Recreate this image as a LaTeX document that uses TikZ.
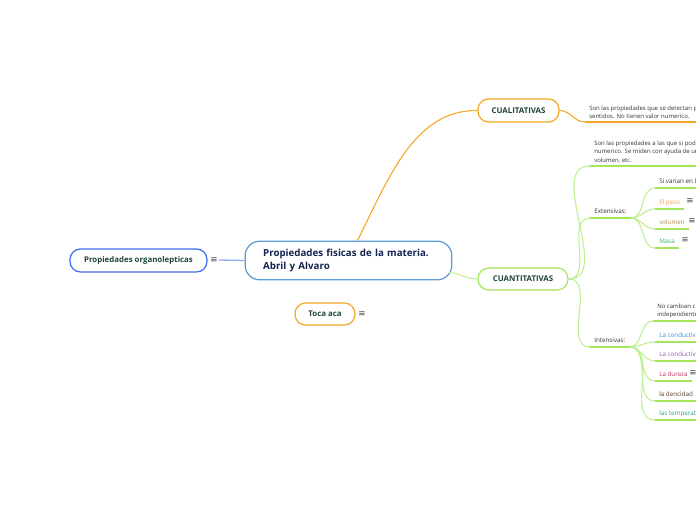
\documentclass[tikz,border=0pt]{standalone}
\usepackage{fontspec}
\setmainfont{Open Sans}
\newfontfamily\symfont{DejaVu Sans}
\usetikzlibrary{positioning, calc}

\definecolor{orangeline}{HTML}{F5A623}
\definecolor{greenline}{HTML}{A3E65A}
\definecolor{greenlink}{HTML}{BDF090}
\definecolor{blueline}{HTML}{3D6DF0}
\definecolor{bluelink}{HTML}{8FB0F0}
\definecolor{centerline}{HTML}{5B9BD5}
\definecolor{darktext}{HTML}{1E4535}
\definecolor{navytext}{HTML}{14224F}
\definecolor{pesocol}{HTML}{F5A050}
\definecolor{volcol}{HTML}{B0905A}
\definecolor{masacol}{HTML}{3DB46D}
\definecolor{cond1col}{HTML}{3A8FD0}
\definecolor{cond2col}{HTML}{8E5BB5}
\definecolor{durcol}{HTML}{C8325A}
\definecolor{dencol}{HTML}{5A3A2A}
\definecolor{tempcol}{HTML}{2A9D8F}

\tikzset{
    pill/.style={draw, line width=0.9pt, rounded corners=8pt, fill=white, text=darktext,
        font=\fontsize{5.9}{7}\selectfont\bfseries, inner sep=0pt},
    leaf/.style={anchor=south west, inner xsep=3pt, inner ysep=1.9pt, text height=3.6pt,
        text depth=1.2pt, font=\fontsize{4.7}{6.4}\selectfont, text=black!80},
    note/.style={anchor=south west, align=left, inner xsep=3pt, inner ysep=2pt,
        font=\fontsize{4.5}{6.4}\selectfont, text=black!80},
    icon/.style={font=\symfont\fontsize{6.5}{7}\selectfont, text=black!75, inner sep=0.5pt},
    uline/.style={line width=1.1pt, greenline},
    link/.style={line width=0.8pt, greenlink},
}

\begin{document}
\begin{tikzpicture}[x=0.75pt, y=-0.75pt]
    \useasboundingbox (0,0) rectangle (696,520);
    \fill[white] (0,0) rectangle (696,520);
    \clip (0,0) rectangle (696,520);

    % main topics
    \node[draw=centerline, line width=0.9pt, rounded corners=11pt, minimum width=155pt,
        minimum height=29pt, text width=128pt, align=left, text=navytext,
        font=\fontsize{7.3}{9.8}\selectfont\bfseries] (central) at (348.5,260.5)
        {Propiedades fisicas de la materia.\\Abril y Alvaro};
    \node[pill, draw=blueline, minimum width=102.8pt, minimum height=17.3pt] (organo)
        at (138.5,260.5) {Propiedades organolepticas};
    \node[icon] (organoIcon) at (214,260) {≡};
    \node[pill, draw=orangeline, minimum width=45pt, minimum height=16.5pt] (toca)
        at (325,314) {Toca aca};
    \node[icon] (tocaIcon) at (362,314) {≡};
    \node[pill, draw=orangeline, minimum width=60.8pt, minimum height=17.3pt] (cuali)
        at (518.5,110.5) {CUALITATIVAS};
    \node[pill, draw=greenline, minimum width=67.5pt, minimum height=16.5pt] (cuanti)
        at (523,279) {CUANTITATIVAS};

    % cualitativas
    \node[note] (cualiDesc) at (585,122) {Son las propiedades que se detectan p\\sentidos. No tienen valor numerico.};

    % cuantitativas
    \node[note] (cuantiDesc) at (590,166) {Son las propiedades a las que si pod\\numerico. Se miden con ayuda de un\\volumen, etc.};
    \node[leaf] (ext) at (590,218) {Extensivas:};
    \node[leaf] (inten) at (590,347) {Intensivas:};

    \node[leaf] (siVarian) at (655,188) {Si varian en l};
    \node[leaf, text=pesocol] (peso) at (655,209) {El peso};
    \node[leaf, text=volcol] (volumen) at (655,229) {volumen};
    \node[leaf, text=masacol] (masa) at (655,248) {Masa};
    \node[icon] (pesoIcon) at (690,201) {≡};
    \node[icon] (volumenIcon) at (692,221) {≡};
    \node[icon] (masaIcon) at (685,240) {≡};

    \node[note] (noCambian) at (653,321) {No cambian c\\independiente};
    \node[leaf, text=cond1col] (cond1) at (655,342) {La conductivi};
    \node[leaf, text=cond2col] (cond2) at (655,361) {La conductivi};
    \node[leaf, text=durcol] (dureza) at (655,381) {La dureza};
    \node[leaf, text=dencol] (dencidad) at (655,401) {la dencidad};
    \node[leaf, text=tempcol] (temp) at (655,420) {las temperatu};
    \node[icon] (durezaIcon) at (693,373) {≡};

    % connectors
    \draw[link, orangeline] ($(central.north)+(9,0)$) .. controls (390,175) and (415,110) .. (cuali.west);
    \draw[link, orangeline] (cuali.east) to[out=0, in=180] (cualiDesc.south west);
    \draw[uline, orangeline, line width=1.4pt] (cualiDesc.south west) -- (696,122);
    \draw[link, bluelink, line width=1pt] (central.west) -- (organoIcon.east);
    \draw[link] ($(central.east)+(-3,12)$) to[out=-5, in=180] (cuanti.west);

    \foreach \n in {cuantiDesc, ext, inten}
        \draw[link] (cuanti.east) to[out=0, in=180] (\n.south west);
    \foreach \n in {siVarian, peso, volumen, masa}
        \draw[link] (ext.south east) to[out=0, in=180] (\n.south west);
    \foreach \n in {noCambian, cond1, cond2, dureza, dencidad, temp}
        \draw[link] (inten.south east) to[out=0, in=180] (\n.south west);

    \foreach \n in {ext, inten, peso, volumen, masa, cond1, cond2, dureza, dencidad}
        \draw[uline] (\n.south west) -- (\n.south east);
    \foreach \n in {cuantiDesc, siVarian, noCambian, temp}
        \draw[uline] (\n.south west) -- (696,0 |- \n.south west);
\end{tikzpicture}
\end{document}
